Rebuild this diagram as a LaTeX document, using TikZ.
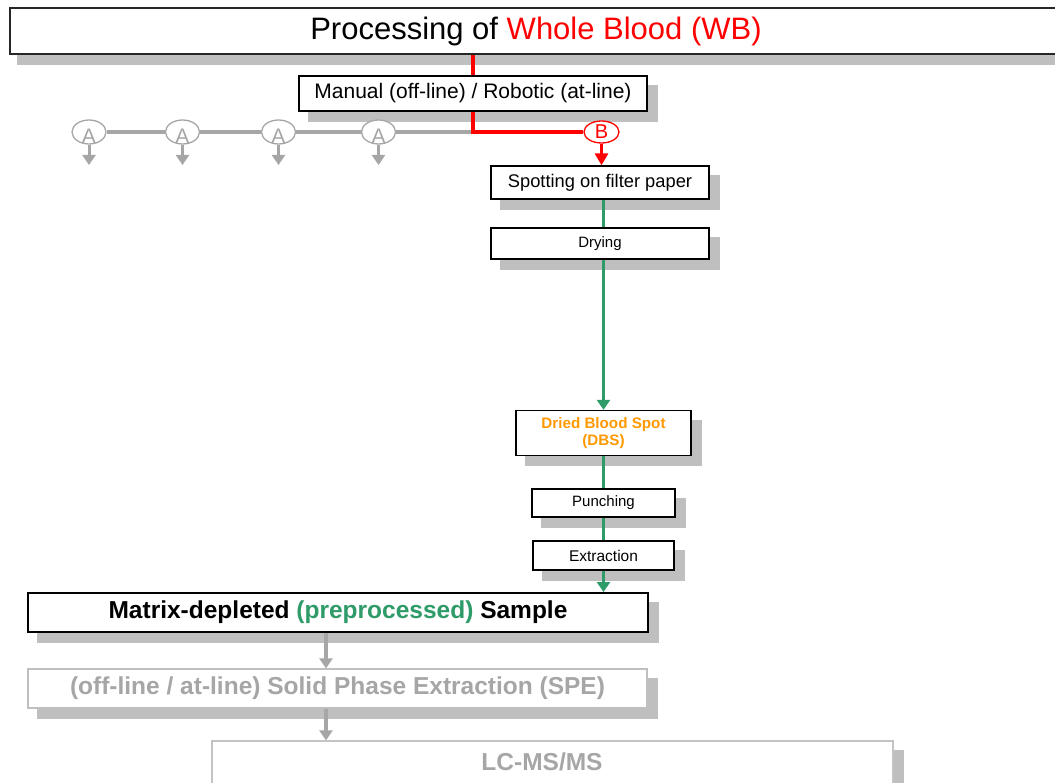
\documentclass[tikz,border=0pt]{standalone}
\usepackage{fontspec}
\setmainfont{Liberation Sans}
\usetikzlibrary{arrows.meta,shapes.geometric}
\definecolor{wbred}{RGB}{255,0,0}
\definecolor{dgreen}{RGB}{46,155,105}
\definecolor{dorange}{RGB}{255,153,0}
\definecolor{lgray}{RGB}{166,166,166}
\definecolor{sgray}{RGB}{191,191,191}
\definecolor{bgray}{RGB}{196,196,196}
\pgfdeclarelayer{shadowlayer}
\pgfdeclarelayer{linelayer}
\pgfsetlayers{shadowlayer,linelayer,main}
\tikzset{
  box/.style={draw=black, line width=1.3pt, fill=white, inner sep=0pt, rectangle, align=center},
  circA/.style={ellipse, draw=lgray, line width=1.3pt, fill=white, inner sep=0pt,
    minimum width=34pt, minimum height=24pt,
    label={[text=lgray, font=\fontsize{21}{22}\selectfont, inner sep=0pt, yshift=-4pt]center:A}},
  circB/.style={ellipse, draw=wbred, line width=1.3pt, fill=white, inner sep=0pt,
    minimum width=35pt, minimum height=22pt, text=wbred, font=\fontsize{20}{22}\selectfont},
  redl/.style={draw=wbred, line width=3.5pt},
  greenl/.style={draw=dgreen, line width=3.5pt},
  grayl/.style={draw=lgray, line width=3.5pt},
  tipg/.style={-{Triangle[length=10pt,width=13pt]}},
  tipr/.style={-{Triangle[length=12pt,width=13pt]}},
  shadowbox/.style={fill=sgray},
}
\begin{document}
\begin{tikzpicture}[x=1pt,y=-1pt]
\useasboundingbox (0,0) rectangle (1055,783);
% ---------- nodes ----------
\node[box, line width=2pt, draw=black!85, minimum width=1052pt, minimum height=46pt,
  font=\fontsize{31}{36}\selectfont] (wb) at (536,31)
  {Processing of \textcolor{wbred}{Whole Blood (WB)}};
\node[box, minimum width=348pt, minimum height=35pt, font=\fontsize{21}{24}\selectfont]
  (man) at (473,93.5) {Manual (off-line) / Robotic (at-line)};
\node[circA] (a1) at (89,132) {};
\node[circA] (a2) at (182.5,132) {};
\node[circA] (a3) at (278.5,132) {};
\node[circA] (a4) at (378.5,132) {};
\node[circB] (b) at (601.5,132) {B};
\node[box, minimum width=218pt, minimum height=33pt, font=\fontsize{18.3}{21}\selectfont]
  (spot) at (600,182.5) {Spotting on filter paper};
\node[box, minimum width=218pt, minimum height=31pt, font=\fontsize{15}{18}\selectfont]
  (dry) at (600,243.5) {Drying};
\node[box, minimum width=175pt, minimum height=45pt, text=dorange,
  font=\fontsize{15.2}{17}\selectfont\bfseries] (dbs) at (603.5,433) {Dried Blood Spot\\(DBS)};
\node[box, minimum width=143pt, minimum height=28pt, font=\fontsize{15}{18}\selectfont]
  (pun) at (603.5,503) {Punching};
\node[box, minimum width=141pt, minimum height=29pt, font=\fontsize{15.5}{18}\selectfont]
  (ext) at (603.5,555.5) {Extraction};
\node[box, line width=2pt, minimum width=620pt, minimum height=39pt,
  font=\fontsize{24.5}{28}\selectfont\bfseries] (mat) at (338,612.5)
  {Matrix-depleted \textcolor{dgreen}{(preprocessed)} Sample};
\node[box, draw=sgray, minimum width=619pt, minimum height=39pt, text=lgray,
  font=\fontsize{24.5}{28}\selectfont\bfseries] (spe) at (337.5,688.5)
  {(off-line / at-line) Solid Phase Extraction (SPE)};
\node[box, draw=bgray, minimum width=681pt, minimum height=50pt] (lc) at (552.5,766) {};
\node[text=lgray, font=\fontsize{24.5}{28}\selectfont\bfseries, inner sep=0pt]
  (lct) at (542,762) {LC-MS/MS};
% ---------- helper coordinates ----------
\coordinate (jn) at (man.center |- a4.east);
\coordinate (a1e) at (89,165);
\coordinate (a2e) at (182.5,165);
\coordinate (a3e) at (278.5,165);
\coordinate (a4e) at (378.5,165);
\coordinate (g1) at (326,0);
% ---------- shadows ----------
\begin{pgfonlayer}{shadowlayer}
  \fill[shadowbox] ([shift={(8pt,-10pt)}]wb.south west) rectangle ([shift={(8pt,-10pt)}]wb.north east);
  \foreach \n in {man,spot,dry,dbs,pun,ext,mat,spe,lc}{
    \fill[shadowbox] ([shift={(10pt,-10pt)}]\n.south west) rectangle ([shift={(10pt,-10pt)}]\n.north east);
  }
\end{pgfonlayer}
% ---------- connectors ----------
\begin{pgfonlayer}{linelayer}
  \draw[grayl] (a1.east) -- (a2.west);
  \draw[grayl] (a2.east) -- (a3.west);
  \draw[grayl] (a3.east) -- (a4.west);
  \draw[grayl] (a4.east) -- (jn);
  \draw[redl] (wb.south -| man.center) -- (jn) -- (b.west);
  \foreach \a in {a1,a2,a3,a4}{
    \draw[grayl, line width=3pt, tipg] (\a.south) -- (\a e);
  }
  \draw[redl, line width=3pt, tipr] (b.south) -- (b.south |- spot.north);
  \draw[greenl, tipg] (dbs.north |- spot.south) -- (dbs.north);
  \draw[greenl, tipg] (dbs.south) -- (dbs.south |- mat.north);
  \draw[grayl, tipg] (g1 |- mat.south) -- (g1 |- spe.north);
  \draw[grayl, tipg] (g1 |- spe.south) -- (g1 |- lc.north);
\end{pgfonlayer}
\end{tikzpicture}
\end{document}
